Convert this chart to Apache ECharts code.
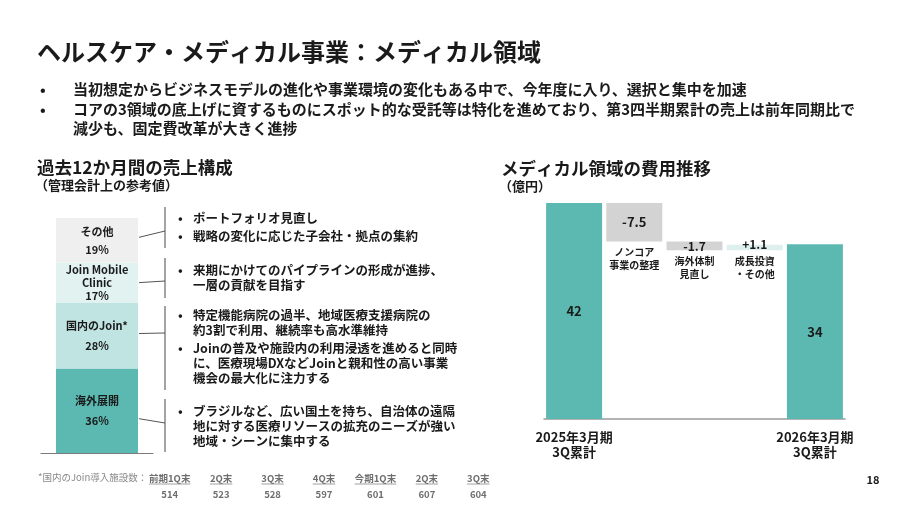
<!DOCTYPE html>
<html><head><meta charset="utf-8">
<script src="https://cdn.jsdelivr.net/npm/echarts@6/dist/echarts.min.js"></script>
<style>html,body{margin:0;padding:0;background:#fff}#c{width:900px;height:506px}</style>
</head><body><div id="c"></div><script>
const FONT = "'Noto Sans CJK JP','Noto Sans',sans-serif";

// ---- data ----
const titleText = 'ヘルスケア・メディカル事業：メディカル領域';
const topBullets = [
  ['当初想定からビジネスモデルの進化や事業環境の変化もある中で、今年度に入り、選択と集中を加速'],
  ['コアの3領域の底上げに資するものにスポット的な受託等は特化を進めており、第3四半期累計の売上は前年同期比で', '減少も、固定費改革が大きく進捗']
];
const leftTitle = '過去12か月間の売上構成';
const leftSubtitle = '（管理会計上の参考値）';
const rightTitle = 'メディカル領域の費用推移';
const rightSubtitle = '（億円）';

// stacked share bar, bottom to top
const shareNames = ['海外展開', '国内のJoin*', 'Join Mobile\nClinic', 'その他'];
const shareValues = [36, 28, 17, 19];

const leftBulletTexts = [
  ['ポートフォリオ見直し'],
  ['戦略の変化に応じた子会社・拠点の集約'],
  ['来期にかけてのパイプラインの形成が進捗、', '一層の貢献を目指す'],
  ['特定機能病院の過半、地域医療支援病院の', '約3割で利用、継続率も高水準維持'],
  ['Joinの普及や施設内の利用浸透を進めると同時', 'に、医療現場DXなどJoinと親和性の高い事業', '機会の最大化に注力する'],
  ['ブラジルなど、広い国土を持ち、自治体の遠隔', '地に対する医療リソースの拡充のニーズが強い', '地域・シーンに集中する']
];

// waterfall
const wfNames = ['2025年3月期\n3Q累計', 'ノンコア\n事業の整理', '海外体制\n見直し', '成長投資\n・その他', '2026年3月期\n3Q累計'];
const wfValues = [42, -7.5, -1.7, 1.1, 34];

// footnote
const footLabel = '*国内のJoin導入施設数：';
const facilityPeriods = ['前期1Q末', '2Q末', '3Q末', '4Q末', '今期1Q末', '2Q末', '3Q末'];
const facilityCounts = [514, 523, 528, 597, 601, 607, 604];
const pageNumber = '18';

// ---- layout / style ----
const TEAL = '#5cb9b1';
const shareColors = ['#5cb9b1', '#c0e4e1', '#e1f2f1', '#efefef'];
const shareLineHeights = [20, 20, 13, 18];
const leftBulletY = [218, 236, 270, 315, 348, 411];
const bracketRanges = [[399, 452], [306, 390], [258, 298], [207, 248]]; // bottom-to-top segments
const connectorEndY = [423, 333, 281, 231];
const connectorStartShift = [8, -2, 0, -3];

// waterfall derived geometry from values
const wfBase = [], wfHeight = [];
(function () {
  let run = 0;
  const last = wfValues.length - 1;
  wfValues.forEach((v, i) => {
    if (i === 0 || i === last) { wfBase.push(0); wfHeight.push(v); run = v; }
    else if (v < 0) { wfBase.push(+(run + v).toFixed(4)); wfHeight.push(-v); run = run + v; }
    else { wfBase.push(+run.toFixed(4)); wfHeight.push(v); run = run + v; }
  });
})();
const wfLast = wfValues.length - 1;
const wfColor = (v, i) => (i === 0 || i === wfLast) ? TEAL : (v < 0 ? '#d3d3d3' : '#def0ee');
const wfLabel = (v, i) => (i === 0 || i === wfLast) ? String(v) : (v > 0 ? '+' + v : String(v));

const chart = echarts.init(document.getElementById('c'), null, { renderer: 'canvas' });

const shareSeries = shareValues.map((v, i) => ({
  type: 'bar', name: shareNames[i], stack: 'share', xAxisIndex: 0, yAxisIndex: 0,
  barWidth: 82, data: [v], itemStyle: { color: shareColors[i] },
  label: {
    show: true, position: 'inside', color: '#1a1a1a', fontFamily: FONT, fontWeight: 'bold',
    fontSize: 11, lineHeight: shareLineHeights[i], align: 'center',
    formatter: () => shareNames[i] + '\n' + v + '%'
  },
  silent: true
}));

const option = {
  animation: false,
  backgroundColor: '#fff',
  textStyle: { fontFamily: FONT },
  grid: [
    { left: 41, width: 112, top: 218, bottom: 53 },
    { left: 544, width: 301, top: 203, bottom: 87 },
    { left: 144, width: 360, top: 455, height: 15 }
  ],
  xAxis: [
    { gridIndex: 0, type: 'category', data: ['share'], axisLine: { lineStyle: { color: '#7a7a7a', width: 1.2 } },
      axisTick: { show: false }, axisLabel: { show: false } },
    { gridIndex: 1, type: 'category', data: wfNames,
      axisLine: { lineStyle: { color: '#9a9a9a', width: 1.5 } }, axisTick: { show: false },
      axisLabel: { interval: 0, margin: 11, color: '#1a1a1a', fontFamily: FONT, fontWeight: 'bold', fontSize: 13, lineHeight: 15,
        formatter: (val, idx) => (idx === 0 || idx === wfLast) ? val : '' } },
    { gridIndex: 2, type: 'category', data: facilityPeriods.map((_, i) => String(i)),
      axisLine: { show: false }, axisTick: { show: false },
      axisLabel: { interval: 0, margin: 0,
        formatter: (val, idx) => '{h|' + facilityPeriods[idx] + '}\n{v|' + facilityCounts[idx] + '}',
        rich: {
          h: { fontFamily: FONT, fontSize: 9.5, color: '#6f6f6f', lineHeight: 16, fontWeight: 'bold' },
          v: { fontFamily: FONT, fontSize: 9.5, color: '#6f6f6f', lineHeight: 16, fontWeight: 'bold' }
        } } }
  ],
  yAxis: [
    { gridIndex: 0, type: 'value', min: 0, max: 100, show: false },
    { gridIndex: 1, type: 'value', min: 0, max: 42, show: false },
    { gridIndex: 2, type: 'value', min: 0, max: 1, show: false }
  ],
  series: [
    ...shareSeries,
    { type: 'bar', name: 'base', stack: 'wf', xAxisIndex: 1, yAxisIndex: 1, barWidth: 56, silent: true,
      itemStyle: { color: 'rgba(0,0,0,0)' },
      data: wfBase.map((b, i) => ({
        value: b,
        label: {
          show: i !== 0 && i !== wfLast, position: 'insideTop', distance: 4,
          color: '#1a1a1a', fontFamily: FONT, fontWeight: 'bold', fontSize: 10, lineHeight: 13,
          formatter: () => wfNames[i]
        }
      })) },
    { type: 'bar', name: 'delta', stack: 'wf', xAxisIndex: 1, yAxisIndex: 1, barWidth: 56, silent: true,
      data: wfHeight.map((h, i) => ({
        value: h,
        itemStyle: { color: wfColor(wfValues[i], i) },
        label: {
          show: true, position: 'inside', color: '#1a1a1a', fontFamily: FONT, fontWeight: 'bold',
          fontSize: (i === 2 || i === 3) ? 12 : 13,
          offset: i === 3 ? [0, -3] : [0, 0],
          formatter: () => wfLabel(wfValues[i], i)
        }
      })) }
  ]
};
chart.setOption(option);

// ---- texts and decorations ----
function txt(x, y, text, size, o) {
  o = o || {};
  return {
    type: 'text', x: x, y: y, silent: true,
    style: {
      text: text, fill: o.fill || '#1a1a1a',
      font: (o.weight || 'bold') + ' ' + size + 'px ' + FONT,
      align: o.align || 'left', textAlign: o.align || 'left',
      verticalAlign: o.va || 'middle', textVerticalAlign: o.va || 'middle',
      lineHeight: o.lh || Math.round(size * 1.3)
    }
  };
}
function line(x1, y1, x2, y2, color, w) {
  return { type: 'line', silent: true, shape: { x1, y1, x2, y2 }, style: { stroke: color, lineWidth: w } };
}
const g = [];
g.push(txt(37, 52, titleText, 24));
// top bullets
const topStartY = [89, 109];
topBullets.forEach((lines, i) => {
  g.push(txt(40, topStartY[i], '•', 15));
  g.push(txt(73, topStartY[i] - 9.75, lines.join('\n'), 15, { va: 'top', lh: 19.5 }));
});
g.push(txt(37, 167, leftTitle, 17.5));
g.push(txt(35, 185, leftSubtitle, 13));
g.push(txt(501, 168, rightTitle, 17.5));
g.push(txt(499, 186, rightSubtitle, 13));
// left bullets
leftBulletTexts.forEach((lines, i) => {
  g.push(txt(178, leftBulletY[i], '•', 12.5));
  g.push(txt(193, leftBulletY[i] - 7.5, lines.join('\n'), 12.5, { va: 'top', lh: 15 }));
});
// brackets and connectors from bar segments
let cum = 0;
shareValues.forEach((v, i) => {
  const mid = cum + v / 2; cum += v;
  const p = chart.convertToPixel({ xAxisIndex: 0, yAxisIndex: 0 }, [0, mid]);
  const r = bracketRanges[i];
  const bx = 165;
  g.push(line(bx, r[0], bx, r[1], '#666', 1.2));
  g.push(line(p[0] + 42, p[1] + connectorStartShift[i], bx, connectorEndY[i], '#555', 1));
});
// footnote
g.push(txt(38, 477, footLabel, 9.5, { weight: 'normal', fill: '#888' }));
const ctx = document.createElement('canvas').getContext('2d');
ctx.font = 'bold 9.5px ' + FONT;
facilityPeriods.forEach((p, i) => {
  const px = chart.convertToPixel({ xAxisIndex: 2 }, String(i));
  const w = ctx.measureText(p).width;
  g.push(line(px - w / 2, 484, px + w / 2, 484, '#888', 0.8));
});
g.push(txt(873, 480, pageNumber, 11, { align: 'center' }));
chart.setOption({ graphic: g });
</script></body></html>
